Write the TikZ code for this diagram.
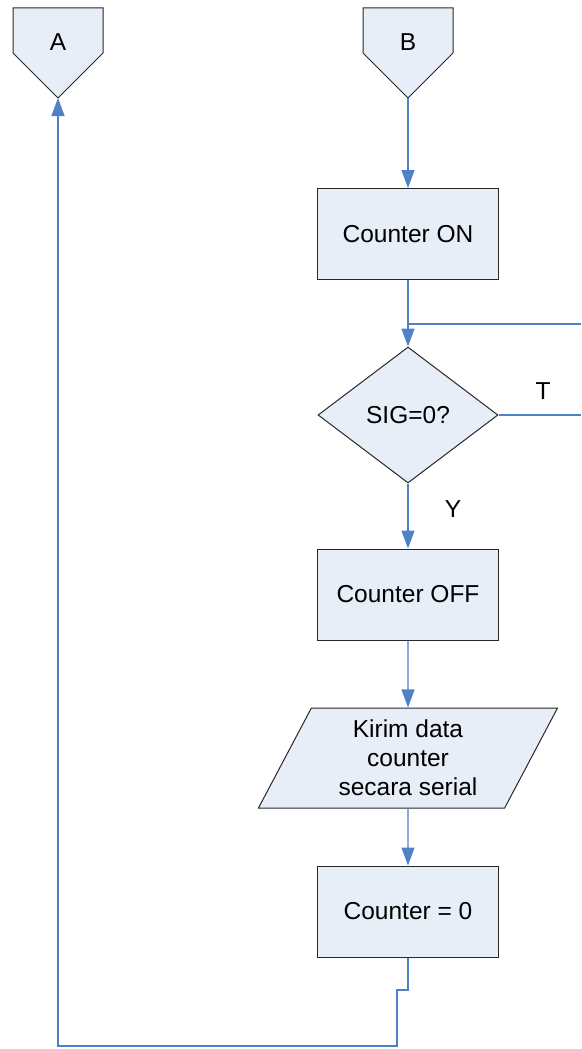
\documentclass[tikz,border=0pt]{standalone}
\usepackage{fontspec}
\setmainfont{Liberation Sans}
\usetikzlibrary{shapes.geometric,arrows.meta}
\definecolor{flowline}{RGB}{79,129,199}
\definecolor{boxfill}{RGB}{232,238,247}
\definecolor{boxline}{RGB}{40,40,40}
\tikzset{
  chartfont/.style={font=\fontsize{24.5}{29}\selectfont},
  procbox/.style={draw=boxline, fill=boxfill, line width=1pt, rectangle,
    minimum width=181pt, minimum height=91pt, inner sep=0pt, chartfont},
  decision/.style={draw=boxline, fill=boxfill, line width=1pt, diamond,
    minimum width=180pt, minimum height=136pt, inner sep=0pt, chartfont},
  iobox/.style={draw=boxline, fill=boxfill, line width=1pt, trapezium,
    trapezium left angle=63.43, trapezium right angle=116.57,
    trapezium stretches=true, minimum width=300pt, minimum height=100pt,
    inner sep=0pt, chartfont, align=center},
  shapeline/.style={draw=boxline, fill=boxfill, line width=1pt, line join=miter},
  flow/.style={draw=flowline, line width=1.4pt},
  flowarrow/.style={flow, -{Triangle[width=13pt,length=18pt]}},
  lbl/.style={chartfont, inner sep=0pt}
}
\begin{document}
\begin{tikzpicture}[x=1pt,y=-1pt]
\useasboundingbox (0,0) rectangle (581,1049);

% off-page connectors
\draw[shapeline] (13,8) -- (103,8) -- (103,53) -- (58,98) -- (13,53) -- cycle;
\node[lbl] (A) at (58,42) {A};
\coordinate (Atip) at (58,98);
\draw[shapeline] (363,8) -- (453,8) -- (453,53) -- (408,98) -- (363,53) -- cycle;
\node[lbl] (B) at (408,42) {B};
\coordinate (Btip) at (408,98);

% process steps
\node[procbox] (on) at (408,234) {Counter ON};
\node[decision] (sig) at (408,415) {SIG=0?};
\node[procbox] (off) at (408,594.5) {Counter OFF};
\node[iobox] (kirim) at (408,758) {Kirim data\\counter\\secara serial};
\node[procbox] (zero) at (408,911.5) {Counter = 0};

% branch labels
\node[lbl] (tlbl) at (543,391) {T};
\node[lbl] (ylbl) at (453,509) {Y};

% loop-back points
\coordinate (loopin) at (581,324);
\coordinate (loopjoin) at (408,324);
\coordinate (tout) at (581,415);
\coordinate (b1) at (408,990);
\coordinate (b2) at (397,990);
\coordinate (b3) at (397,1046);
\coordinate (b4) at (58,1046);

% connectors
\draw[flowarrow] (Btip) -- (on.north);
\draw[flowarrow] (on.south) -- (sig.north);
\draw[flow] (loopin) -- (loopjoin);
\draw[flow] (sig.east) -- (tout);
\draw[flowarrow] (sig.south) -- (off.north);
\draw[flowarrow] (off.south) -- (kirim.north);
\draw[flowarrow] (kirim.south) -- (zero.north);
\draw[flowarrow] (zero.south) -- (b1) -- (b2) -- (b3) -- (b4) -- (Atip);
\end{tikzpicture}
\end{document}
